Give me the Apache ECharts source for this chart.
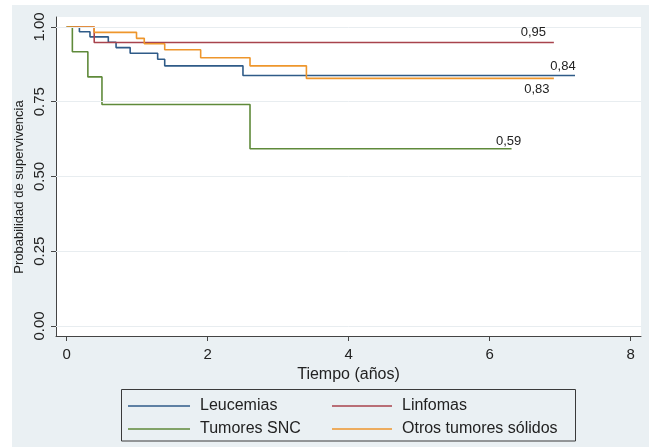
<!DOCTYPE html>
<html>
<head>
<meta charset="utf-8">
<script src="https://cdn.jsdelivr.net/npm/echarts@6/dist/echarts.min.js"></script>
<style>html,body{margin:0;padding:0;background:#fff}#c{width:649px;height:447px}</style>
</head>
<body>
<div id="c"></div>
<script>
// ---- data ----
const seriesNames = ['Leucemias', 'Linfomas', 'Tumores SNC', 'Otros tumores sólidos'];
const leucemiasTime = [0, 0.18, 0.33, 0.59, 0.70, 0.90, 1.29, 1.39, 2.50, 7.21];
const leucemiasSurv = [1, 0.984, 0.967, 0.949, 0.931, 0.912, 0.892, 0.870, 0.838, 0.838];
const linfomasTime = [0, 0.39, 6.91];
const linfomasSurv = [1, 0.948, 0.948];
const sncTime = [0, 0.08, 0.30, 0.50, 2.60, 6.31];
const sncSurv = [1, 0.917, 0.833, 0.741, 0.593, 0.593];
const otrosTime = [0, 0.39, 0.99, 1.10, 1.39, 1.90, 2.60, 3.40, 6.91];
const otrosSurv = [1, 0.982, 0.962, 0.944, 0.924, 0.897, 0.870, 0.828, 0.828];
const xTicks = [0, 2, 4, 6, 8];
const yTicks = [0, 0.25, 0.5, 0.75, 1];
const xTitle = 'Tiempo (años)';
const yTitle = 'Probabilidad de supervivencia';

// ---- styles ----
const FONT = "'Liberation Sans', Arial, sans-serif";
const colors = ['#2f5b88', '#a8434d', '#5f8a3a', '#ee962c'];
const labelOffsets = [[-12, -9], [-20.5, -9.7], [-3, -7.6], [-17, 10.7]];
const times = [leucemiasTime, linfomasTime, sncTime, otrosTime];
const survs = [leucemiasSurv, linfomasSurv, sncSurv, otrosSurv];

function fmtComma(v) { return v.toFixed(2).replace('.', ','); }

const curveSeries = seriesNames.map((name, i) => {
  const t = times[i], s = survs[i];
  const last = t.length - 1;
  return {
    name: name,
    type: 'line',
    step: 'end',
    symbol: 'none',
    z: 3,
    color: colors[i],
    lineStyle: { color: colors[i], width: 1.6 },
    data: t.map((x, k) => [x, s[k]]),
    markPoint: {
      silent: true,
      symbol: 'circle',
      symbolSize: 1,
      itemStyle: { color: 'rgba(0,0,0,0)' },
      label: {
        show: true, position: 'inside', offset: labelOffsets[i],
        color: '#222', fontSize: 13, fontFamily: FONT,
        formatter: () => fmtComma(s[last])
      },
      data: [{ coord: [t[last], s[last]] }]
    }
  };
});

const gridSeries = {
  name: '_grid', type: 'line', data: [], z: 1, silent: true,
  markLine: {
    silent: true, symbol: 'none', animation: false,
    label: { show: false },
    lineStyle: { color: '#e8edf0', width: 1, type: 'solid' },
    data: yTicks.map(v => ({ yAxis: v }))
  }
};

const chart = echarts.init(document.getElementById('c'), null, { renderer: 'canvas' });
const legendCommon = {
  orient: 'vertical', top: 398, padding: 0, itemHeight: 1.6, itemGap: 7,
  icon: 'rect',
  textStyle: { fontSize: 16, fontFamily: FONT, color: '#222', padding: [0, 0, 0, 5] },
  selectedMode: false
};
chart.setOption({
  animation: false,
  backgroundColor: '#ffffff',
  graphic: [
    { type: 'rect', z: -100, silent: true, shape: { x: 12, y: 5, width: 637, height: 442 }, style: { fill: '#eaf0f3' } },
    { type: 'rect', z: 10, silent: true, shape: { x: 121.5, y: 389.5, width: 454, height: 51.5 }, style: { fill: 'none', stroke: '#3a3a3a', lineWidth: 1 } },
    { type: 'text', z: 10, silent: true, x: 19, y: 187, rotation: Math.PI / 2,
      style: { text: yTitle, fontSize: 13, fontFamily: FONT, fill: '#222', align: 'center', verticalAlign: 'middle' } }
  ],
  grid: { left: 56, top: 17, width: 585, height: 319, show: true, backgroundColor: '#ffffff', borderWidth: 0, containLabel: false },
  legend: [
    Object.assign({}, legendCommon, { left: 128, itemWidth: 62, data: [seriesNames[0], seriesNames[2]] }),
    Object.assign({}, legendCommon, { left: 332, itemWidth: 60, data: [seriesNames[1], seriesNames[3]] })
  ],
  xAxis: {
    type: 'value', min: -0.152, max: 8.146,
    name: xTitle, nameLocation: 'middle', nameGap: 30,
    nameTextStyle: { fontSize: 16, fontFamily: FONT, color: '#222' },
    axisLine: { show: true, onZero: false, lineStyle: { color: '#444', width: 1 } },
    axisTick: { show: true, customValues: xTicks, length: 5, lineStyle: { color: '#444' } },
    axisLabel: { customValues: xTicks, margin: 11, fontSize: 15, fontFamily: FONT, color: '#222', formatter: v => String(v) },
    splitLine: { show: false }
  },
  yAxis: {
    type: 'value', min: -0.0334, max: 1.0334,
    axisLine: { show: true, onZero: false, lineStyle: { color: '#444', width: 1 } },
    axisTick: { show: true, customValues: yTicks, length: 5, lineStyle: { color: '#444' } },
    axisLabel: { customValues: yTicks, rotate: 90, margin: 9, fontSize: 15, fontFamily: FONT, color: '#222', formatter: v => v.toFixed(2) },
    splitLine: { show: false }
  },
  series: [gridSeries].concat(curveSeries)
});
</script>
</body>
</html>
